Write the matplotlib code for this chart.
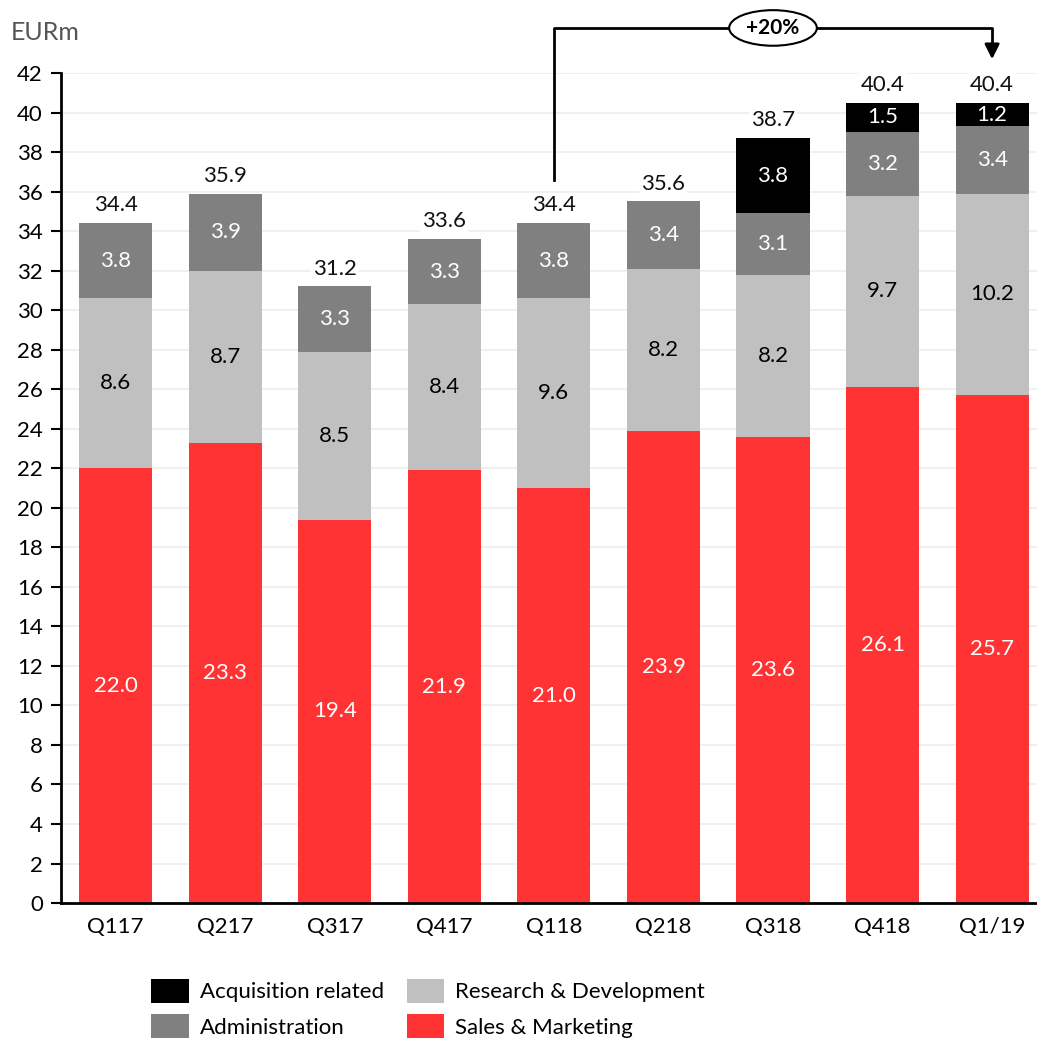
import matplotlib
matplotlib.use("Agg")
import matplotlib.pyplot as plt
import numpy as np
from matplotlib.patches import Ellipse

plt.rcParams["font.family"] = ["Lato", "DejaVu Sans"]

quarters = ["Q117", "Q217", "Q317", "Q417", "Q118", "Q218", "Q318", "Q418", "Q1/19"]
sales_marketing = [22.0, 23.3, 19.4, 21.9, 21.0, 23.9, 23.6, 26.1, 25.7]
research_dev = [8.6, 8.7, 8.5, 8.4, 9.6, 8.2, 8.2, 9.7, 10.2]
administration = [3.8, 3.9, 3.3, 3.3, 3.8, 3.4, 3.1, 3.2, 3.4]
acquisition = [0.0, 0.0, 0.0, 0.0, 0.0, 0.0, 3.8, 1.5, 1.2]
totals = [34.4, 35.9, 31.2, 33.6, 34.4, 35.6, 38.7, 40.4, 40.4]
growth_label = "+20%"

RED = "#ff3333"
LIGHT = "#c0c0c0"
MID = "#808080"
DARK = "#000000"

fig = plt.figure(figsize=(10.37, 10.43), dpi=100)
ax = fig.add_axes([0.0588, 0.1342, 0.9412, 0.7958])

x = np.arange(len(quarters))
width = 0.667

series = [
    ("Sales & Marketing", sales_marketing, RED, "white"),
    ("Research & Development", research_dev, LIGHT, "black"),
    ("Administration", administration, MID, "white"),
    ("Acquisition related", acquisition, DARK, "white"),
]

bottom = np.zeros(len(quarters))
handles = {}
for name, vals, color, txtcol in series:
    vals = np.array(vals)
    bars = ax.bar(x, vals, width, bottom=bottom, color=color, zorder=2, label=name)
    handles[name] = bars
    for xi, b, v in zip(x, bottom, vals):
        if v > 0:
            ax.text(xi, b + v / 2, f"{v:.1f}", ha="center", va="center",
                    color=txtcol, fontsize=16, zorder=3)
    bottom = bottom + vals

# totals above each stack
for xi, top, t in zip(x, bottom, totals):
    ax.text(xi, top + 0.4, f"{t:.1f}", ha="center", va="bottom", fontsize=16,
            color="#111111", zorder=3,
            bbox=dict(facecolor="white", edgecolor="none", pad=1.5))

ax.set_xlim(-0.5, 8.41)
ax.set_ylim(0, 42)
ax.set_yticks(np.arange(0, 43, 2))
ax.set_xticks(x)
ax.set_xticklabels(quarters)
ax.tick_params(axis="y", direction="out", length=7, width=1.5, labelsize=16, pad=6)
ax.tick_params(axis="x", length=0, labelsize=16, pad=10)
ax.yaxis.grid(True, color="#efeee6", linewidth=1.2, zorder=0)
ax.set_axisbelow(True)
for side in ("top", "right"):
    ax.spines[side].set_visible(False)
ax.spines["left"].set_linewidth(2)
ax.spines["bottom"].set_linewidth(2)

fig.text(0.010, 0.969, "EURm", fontsize=18, color="#555555", va="center", ha="left")

# growth bracket from Q118 to Q1/19
y_top = 44.28
ax.plot([4, 4, 8, 8], [36.6, y_top, y_top, 43.4], color="black", lw=2,
        clip_on=False, zorder=4)
ax.annotate("", xy=(8, 42.7), xytext=(8, 43.5),
            arrowprops=dict(arrowstyle="-|>", color="black", lw=2,
                            mutation_scale=22, shrinkA=0, shrinkB=0),
            annotation_clip=False)
ell = Ellipse((6, y_top), 0.8, 1.8, facecolor="white", edgecolor="black",
              lw=1.5, clip_on=False, zorder=5)
ax.add_patch(ell)
ax.text(6, y_top, growth_label, ha="center", va="center", fontsize=15,
        fontweight="bold", zorder=6, clip_on=False)

order = ["Acquisition related", "Administration", "Research & Development", "Sales & Marketing"]
fig.legend([handles[n] for n in order], order, ncol=2, loc="center",
           bbox_to_anchor=(0.413, 0.033), frameon=False, fontsize=16,
           handlelength=1.7, handleheight=1.3, handletextpad=0.5,
           columnspacing=1.0, labelspacing=0.5)

fig.savefig("out.png", dpi=100)
